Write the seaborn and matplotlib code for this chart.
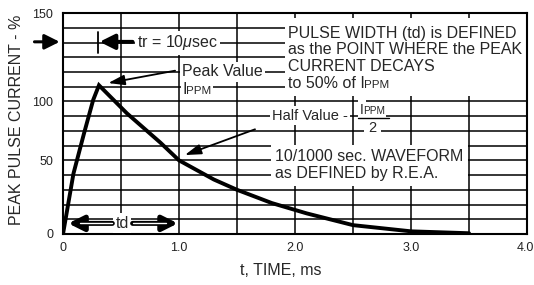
import matplotlib
matplotlib.use('Agg')
import matplotlib.pyplot as plt
import seaborn as sns
from matplotlib.ticker import MultipleLocator
from matplotlib.patches import Rectangle
from matplotlib.transforms import ScaledTranslation

# 10/1000 usec pulse waveform
time_ms = [0, 0.09, 0.18, 0.26, 0.31, 0.55, 0.84, 1.0, 1.3, 1.5, 1.8, 2.1, 2.5, 3.0, 3.5]
current_pct = [0, 41, 68, 91, 101, 82, 62, 50, 37, 30, 21, 14, 6, 1.8, 0.5]

x_ticks = [0, 1, 2, 3, 4]
x_tick_labels = ['0', '1.0', '2.0', '3.0', '4.0']
# the original sheet prints "100" on the 90 grid line
y_ticks = [0, 50, 90, 150]
y_tick_labels = ['0', '50', '100', '150']

sns.set_style('white')
plt.rcParams['font.family'] = ['Liberation Sans', 'DejaVu Sans']
plt.rcParams['mathtext.fontset'] = 'custom'
plt.rcParams['mathtext.rm'] = 'Liberation Sans'
plt.rcParams['mathtext.it'] = 'Liberation Sans:italic'

fig = plt.figure(figsize=(5.34, 2.85), dpi=100)
ax = fig.add_axes([0.118, 0.179, 0.869, 0.775])
renderer = fig.canvas.get_renderer()

sns.lineplot(x=time_ms, y=current_pct, ax=ax, color='black', lw=2.8, zorder=2)
ax.lines[0].set_solid_joinstyle('miter')

ax.set_xlim(0, 4)
ax.set_ylim(0, 150)
ax.set_xticks(x_ticks)
ax.set_xticklabels(x_tick_labels)
ax.set_yticks(y_ticks)
ax.set_yticklabels(y_tick_labels)
ax.xaxis.set_minor_locator(MultipleLocator(0.5))
ax.yaxis.set_minor_locator(MultipleLocator(10))
ax.tick_params(which='both', length=0, labelsize=9, colors='#222222')
ax.tick_params(axis='x', pad=6)
ax.tick_params(axis='y', pad=7)
ax.set_axisbelow(True)
ax.grid(which='both', color='black', lw=1.1)
for s in ax.spines.values():
    s.set_color('black')
    s.set_linewidth(1.5)

# keep the last x label inside the canvas
last = ax.get_xticklabels()[-1]
last.set_transform(last.get_transform() + ScaledTranslation(-1.5 / 72, 0, fig.dpi_scale_trans))

fs = 11.5
ax.set_xlabel('t, TIME, ms', fontsize=fs)
ax.set_ylabel('PEAK PULSE CURRENT - %', fontsize=fs)
ax.xaxis.set_label_coords(0.47, -0.13)
ax.yaxis.set_label_coords(-0.085, 0.515)

# white panel behind the definition text
ax.add_patch(Rectangle((1.91, 93.5), 2.09, 53.5, facecolor='white', edgecolor='none', zorder=1))

box = dict(boxstyle='square,pad=0.15', facecolor='white', edgecolor='none')


def ippm(x, y, size, prefix='I', bbox=None):
    # "I" followed by a small "PPM" on the same baseline
    back = ax.text(x, y, prefix, fontsize=size, va='baseline', zorder=2.9, bbox=bbox, color='white')
    w = back.get_window_extent(renderer).width * 72 / fig.dpi
    ax.annotate('PPM', xy=(x, y), xytext=(w - 0.8, 0), textcoords='offset points',
                fontsize=size * 0.72, va='baseline', ha='left', zorder=3, bbox=bbox)
    ax.text(x, y, prefix, fontsize=size, va='baseline', zorder=3.1)


head = '-|>,head_length=0.6,head_width=0.3'

# tr = 10 usec
ax.annotate('', xy=(-0.005, 130.5), xytext=(-0.27, 130.5), annotation_clip=False,
            arrowprops=dict(arrowstyle=head, color='black', lw=2.2, mutation_scale=15))
ax.plot([0.3, 0.3], [123, 137.5], color='black', lw=1.3, zorder=3)
ax.text(0.638, 126.8, r'tr = 10$\mu$sec', fontsize=fs, va='baseline', zorder=3, bbox=box)
ax.annotate('', xy=(0.315, 130.5), xytext=(0.60, 130.5),
            arrowprops=dict(arrowstyle=head, color='black', lw=2.8, mutation_scale=15, shrinkA=0, shrinkB=0), zorder=4)

# peak value
ax.text(1.026, 107.2, 'Peak Value', fontsize=fs, va='baseline', zorder=3, bbox=box)
ippm(1.034, 95.3, fs, bbox=box)
ax.annotate('', xy=(0.39, 102.5), xytext=(0.966, 110.9),
            arrowprops=dict(arrowstyle='-|>,head_length=0.7,head_width=0.22', color='black', lw=1.3,
                            mutation_scale=14, shrinkA=0, shrinkB=0), zorder=4)

# definition block
ax.text(1.94, 133.2, 'PULSE WIDTH (td) is DEFINED', fontsize=fs, va='baseline', zorder=3)
ax.text(1.94, 122.3, 'as the POINT WHERE the PEAK', fontsize=fs, va='baseline', zorder=3)
ax.text(1.94, 111.0, 'CURRENT DECAYS', fontsize=fs, va='baseline', zorder=3)
ippm(1.94, 99.0, fs, prefix='to 50% of I')

# half value
ax.text(1.80, 77.7, 'Half Value -', fontsize=10.5, va='baseline', zorder=3, bbox=box)
ippm(2.56, 81.8, 10, bbox=box)
ax.plot([2.545, 2.81], [79.0, 79.0], color='black', lw=1.0, zorder=4)

# waveform note
ax.text(1.83, 37.9, '10/1000 sec. WAVEFORM\nas DEFINED by R.E.A.', fontsize=fs, va='baseline',
        linespacing=1.15, zorder=3,
        bbox=dict(boxstyle='square,pad=0.3', facecolor='white', edgecolor='none'))
ax.text(2.67, 69.4, '2', fontsize=10.5, va='baseline', ha='center', zorder=3,
        bbox=dict(boxstyle='square,pad=0.3', facecolor='white', edgecolor='none'))
ax.annotate('', xy=(1.05, 53.6), xytext=(1.655, 71.1),
            arrowprops=dict(arrowstyle='-|>,head_length=0.7,head_width=0.22', color='black', lw=1.3,
                            mutation_scale=14, shrinkA=0, shrinkB=0), zorder=4)

# td arrows
ax.text(0.51, 7.2, 'td', fontsize=fs, va='center', ha='center', zorder=3, bbox=box)
for tail, tip in [(0.425, 0.045), (0.60, 0.99)]:
    ax.annotate('', xy=(tip, 7.2), xytext=(tail, 7.2),
                arrowprops=dict(arrowstyle=head, color='black', lw=3.6, mutation_scale=15,
                                shrinkA=0, shrinkB=0), zorder=4)
    lo, hi = sorted([tail, tip])
    if tip < tail:
        lo += 0.1
    else:
        hi -= 0.1
    ax.plot([lo, hi], [7.2, 7.2], color='white', lw=1.0, zorder=5)

plt.savefig('out.png', dpi=100)
